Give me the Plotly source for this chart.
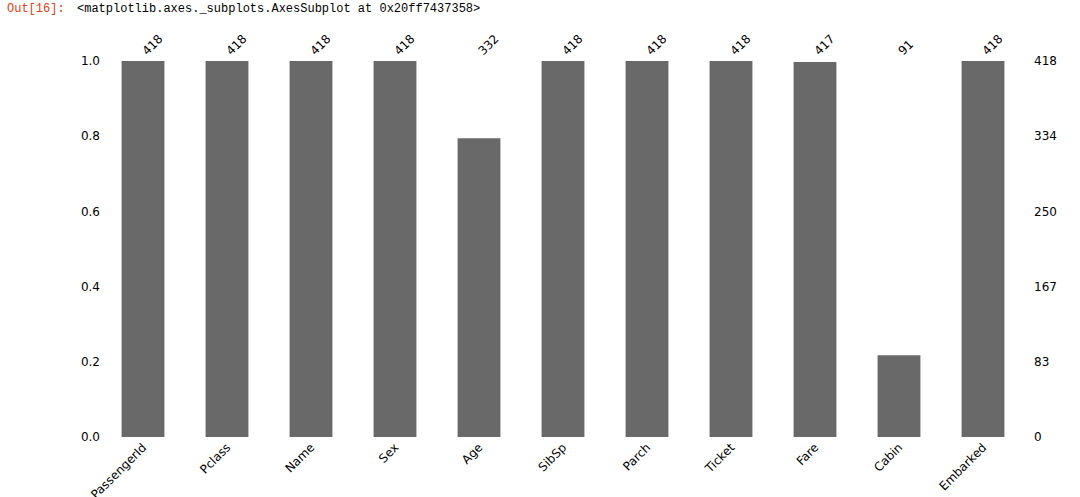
import plotly.graph_objects as go

columns = ["PassengerId", "Pclass", "Name", "Sex", "Age", "SibSp", "Parch",
           "Ticket", "Fare", "Cabin", "Embarked"]
counts = [418, 418, 418, 418, 332, 418, 418, 418, 417, 91, 418]
total_rows = 418
left_ticks = [0.0, 0.2, 0.4, 0.6, 0.8, 1.0]

fractions = [c / total_rows for c in counts]
right_vals = [total_rows * t for t in left_ticks]
right_text = [str(int(v)) for v in right_vals]

W, H = 1080, 497
ML, MR, MT, MB = 101, 55, 61, 60
pw = W - ML - MR

fig = go.Figure()
fig.add_trace(go.Bar(x=columns, y=fractions, marker_color="#696969",
                     marker_line_width=0, width=0.51, xaxis="x", yaxis="y",
                     hoverinfo="skip", showlegend=False))
fig.add_trace(go.Bar(x=columns, y=counts, marker_color="rgba(0,0,0,0)",
                     marker_line_width=0, width=0.51, xaxis="x2", yaxis="y2",
                     hoverinfo="skip", showlegend=False))

tick_font = dict(family="DejaVu Sans", size=12, color="#000000")
fig.update_layout(
    width=W, height=H,
    margin=dict(l=ML, r=MR, t=MT, b=MB, pad=0),
    plot_bgcolor="white", paper_bgcolor="white",
    barmode="overlay",
    xaxis=dict(type="category", categoryarray=columns, range=[-0.5, 10.5],
               showgrid=False, zeroline=False, showline=False, ticks="",
               tickangle=-45, tickfont=tick_font, automargin=False),
    xaxis2=dict(type="category", categoryarray=columns, range=[-0.5, 10.5],
                overlaying="x", side="top", showgrid=False, zeroline=False,
                showline=False, ticks="", tickangle=-45, tickfont=tick_font,
                tickmode="array", tickvals=columns, automargin=False,
                ticktext=[str(c) for c in counts]),
    yaxis=dict(range=[0, 1], showgrid=False, zeroline=False, showline=False,
               ticks="", tickmode="array", tickvals=left_ticks,
               ticktext=[f"{t:.1f}" for t in left_ticks], tickfont=tick_font,
               automargin=False),
    yaxis2=dict(range=[0, total_rows], overlaying="y", side="right",
                showgrid=False, zeroline=False, showline=False, ticks="",
                tickmode="array", tickvals=right_vals, ticktext=right_text,
                tickfont=tick_font, automargin=False, ticklabelstandoff=8),
)

mono = "Liberation Mono"
fig.add_annotation(xref="paper", yref="paper", x=(5 - ML) / pw, y=1,
                   yshift=MT - 9, xanchor="left", yanchor="middle",
                   text="Out[16]:", showarrow=False,
                   font=dict(family=mono, size=12, color="#D84315"))
fig.add_annotation(xref="paper", yref="paper", x=(75 - ML) / pw, y=1,
                   yshift=MT - 9, xanchor="left", yanchor="middle",
                   text="&lt;matplotlib.axes._subplots.AxesSubplot at 0x20ff7437358&gt;",
                   showarrow=False,
                   font=dict(family=mono, size=12, color="#000000"))

fig.write_html("out.html", config={"displayModeBar": False},
               post_script="document.body.style.margin='0';document.body.style.overflow='hidden';")
